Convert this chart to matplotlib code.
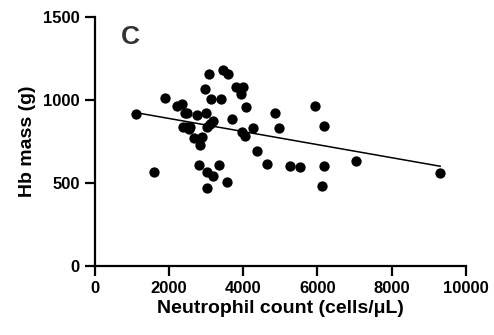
import matplotlib
matplotlib.use("Agg")
import matplotlib.pyplot as plt
import numpy as np

neutrophil = [1105, 1590, 1878, 2201, 2336, 2363, 2426, 2489, 2471, 2543, 2561,
              2740, 2678, 2794, 2830, 2884, 2974, 2992, 3010, 3064, 3028, 3028,
              3118, 3100, 3190, 3172, 3351, 3405, 3441, 3585, 3549, 3693, 3818,
              3980, 3926, 3962, 4052, 4070, 4268, 4358, 4627, 4852, 4969, 5256,
              5526, 5921, 6119, 6172, 6181, 7035, 9308]
hb_mass = [914, 568, 1010, 964, 974, 837, 920, 920, 837, 823, 839,
           910, 769, 608, 729, 779, 1064, 920, 839, 1155, 568, 472,
           1004, 855, 875, 544, 608, 1004, 1181, 1157, 508, 884, 1080,
           1076, 1034, 809, 783, 956, 829, 693, 612, 924, 829, 604,
           598, 964, 484, 604, 843, 633, 558]

x_ticks = [0, 2000, 4000, 6000, 8000, 10000]
y_ticks = [0, 500, 1000, 1500]

plt.rcParams['font.family'] = ['Liberation Sans', 'DejaVu Sans']
plt.rcParams['font.weight'] = 'bold'

fig = plt.figure(figsize=(4.94, 3.35), dpi=100)
ax = fig.add_axes([0.192, 0.206, 0.751, 0.743])

x = np.array(neutrophil)
y = np.array(hb_mass)
ax.scatter(x, y, s=55, color='black', zorder=3, linewidths=0)
slope, intercept = np.polyfit(x, y, 1)
xl = np.array([x.min(), x.max()])
ax.plot(xl, slope * xl + intercept, color='black', lw=1.1, zorder=2)

ax.set_xlim(0, 10000)
ax.set_ylim(0, 1500)
ax.set_xticks(x_ticks)
ax.set_yticks(y_ticks)
ax.tick_params(axis='both', direction='out', length=7, width=1.6, labelsize=12, pad=4)
for lab in ax.get_xticklabels() + ax.get_yticklabels():
    lab.set_fontweight('bold')
for s in ['top', 'right']:
    ax.spines[s].set_visible(False)
for s in ['left', 'bottom']:
    ax.spines[s].set_linewidth(1.6)

ax.set_xlabel('Neutrophil count (cells/\u03bcL)', fontsize=14, fontweight='bold', labelpad=3)
ax.set_ylabel('Hb mass (g)', fontsize=14, fontweight='bold', labelpad=5)
ax.text(0.07, 0.97, 'C', transform=ax.transAxes, fontsize=19, fontweight='bold',
        color='#333333', va='top', ha='left')

fig.savefig('out.png', dpi=100)
